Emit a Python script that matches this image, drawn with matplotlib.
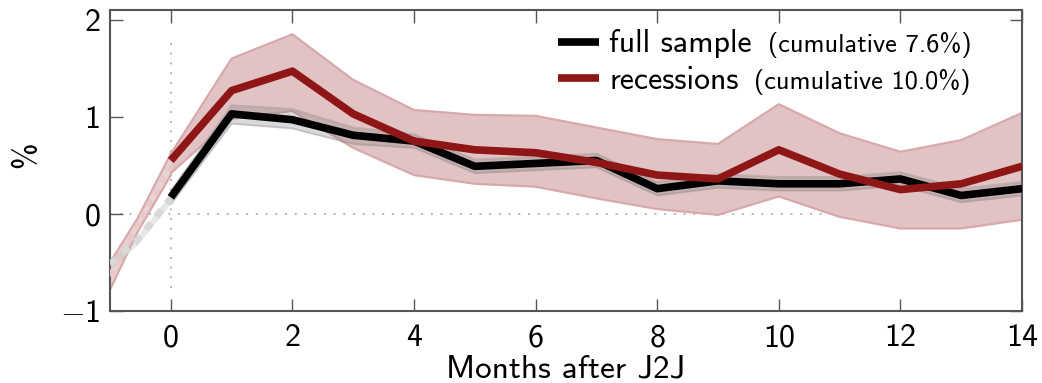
import numpy as np
import matplotlib
matplotlib.use("Agg")
import matplotlib.pyplot as plt
from matplotlib.lines import Line2D

# Months after the job-to-job move
months = [0, 1, 2, 3, 4, 5, 6, 7, 8, 9, 10, 11, 12, 13, 14]

# Full sample response and confidence band
full = [0.17, 1.03, 0.97, 0.81, 0.75, 0.49, 0.52, 0.55, 0.26, 0.34, 0.31, 0.31, 0.36, 0.19, 0.26]
full_lo = [0.10, 0.93, 0.88, 0.72, 0.68, 0.42, 0.45, 0.48, 0.19, 0.27, 0.24, 0.24, 0.29, 0.12, 0.19]
full_hi = [0.24, 1.12, 1.08, 0.89, 0.82, 0.56, 0.59, 0.62, 0.33, 0.41, 0.38, 0.38, 0.43, 0.26, 0.33]

# Recession response and confidence band
rec = [0.55, 1.27, 1.47, 1.03, 0.75, 0.66, 0.63, 0.53, 0.40, 0.36, 0.66, 0.41, 0.25, 0.31, 0.49]
rec_lo = [0.42, 0.98, 1.06, 0.68, 0.40, 0.31, 0.28, 0.16, 0.05, -0.01, 0.18, -0.03, -0.15, -0.15, -0.06]
rec_hi = [0.62, 1.60, 1.85, 1.38, 1.07, 1.02, 1.01, 0.89, 0.77, 0.72, 1.13, 0.83, 0.64, 0.76, 1.04]

# Pre-move segment
pre_x = [-1.0, -0.55, 0.0]
pre_full = [-0.52, -0.27, 0.16]
pre_full_lo = [-0.57, -0.32, 0.11]
pre_full_hi = [-0.47, -0.22, 0.21]
pre_rec = [-0.64, -0.12, 0.51]
pre_rec_lo = [-0.78, -0.19, 0.40]
pre_rec_hi = [-0.50, -0.05, 0.62]

labels = ["full sample", "recessions"]
notes = ["(cumulative 7.6%)", "(cumulative 10.0%)"]

xticks = [0, 2, 4, 6, 8, 10, 12, 14]
yticks = [-1, 0, 1, 2]
xlim = (-1, 14)
ylim = (-1, 2.1)
vline_span = (-0.76, 1.81)

RED = "#8E1616"
BAND_RED = "#E2C3C4"
BAND_RED_EDGE = "#D7A9AB"
FRAME = "#555555"

plt.rcParams["font.family"] = ["cmss10", "DejaVu Sans"]
plt.rcParams["mathtext.fontset"] = "cm"
plt.rcParams["axes.formatter.use_mathtext"] = False

W, H = 1042, 383
fig = plt.figure(figsize=(W / 100, H / 100), dpi=100)
ax = fig.add_axes([110 / W, 1 - 311 / H, (1022 - 110) / W, (311 - 10) / H])

# reference lines
ax.axhline(0, color="#B5B5B5", lw=1.4, ls=(0, (1, 4)), zorder=1)
ax.vlines(0, *vline_span, color="#B5B5B5", lw=1.4, ls=(0, (1, 4)), zorder=1)

# recession band
ax.fill_between(pre_x, pre_rec_lo, pre_rec_hi, color=BAND_RED, alpha=0.75, lw=0, zorder=2)
ax.fill_between(months, rec_lo, rec_hi, color=BAND_RED, lw=0, zorder=2)
for xs, ys in [(months, rec_lo), (months, rec_hi), (pre_x, pre_rec_lo), (pre_x, pre_rec_hi)]:
    ax.plot(xs, ys, color=BAND_RED_EDGE, lw=1.6, zorder=2.1)

# full sample band
ax.fill_between(pre_x, pre_full_lo, pre_full_hi, color="#BDBDBD", alpha=0.35, lw=0, zorder=3)
ax.fill_between(months, full_lo, full_hi, color="#7A7A7A", alpha=0.28, lw=0, zorder=3)
for ys in (full_lo, full_hi):
    ax.plot(months, ys, color="#8A8A8A", alpha=0.35, lw=1.5, zorder=3.1)

# pre-move dashed lines
ax.plot(pre_x, pre_rec, color="#E8C8C8", lw=4, ls=(0, (1.2, 1.2)), zorder=3.5)
ax.plot(pre_x, pre_full, color="#D8D8D8", lw=5, ls=(0, (1.2, 1.2)), zorder=3.6)

# responses
ax.plot(months, full, color="black", lw=5.5, solid_capstyle="butt", zorder=4)
ax.plot(months, rec, color=RED, lw=5.5, solid_capstyle="butt", zorder=5)

ax.set_xlim(*xlim)
ax.set_ylim(*ylim)
ax.set_xticks(xticks)
ax.set_yticks(yticks)
ax.set_yticklabels(["$-$" + str(-t) if t < 0 else str(t) for t in yticks])
ax.tick_params(direction="in", length=9, width=1, color=FRAME, labelsize=23,
               top=True, right=True)
ax.tick_params(axis="x", pad=9)
ax.tick_params(axis="y", pad=7)
for s in ax.spines.values():
    s.set_color(FRAME)
    s.set_linewidth(1.5)

ax.set_xlabel("Months after J2J", fontsize=24, va="baseline")
ax.xaxis.set_label_coords(0.5, (311 - 377) / 301)
ax.set_ylabel("%", fontsize=23)
ax.yaxis.set_label_coords((40 - 110) / 912, 0.52)

# legend: thick line keys, label text, smaller parenthetical notes
key_x = ((558 - 110) / 912, (599 - 110) / 912)
text_x = (609 - 110) / 912
key_y = [(311 - 42) / 301, (311 - 78) / 301]
base_y = [(311 - 52) / 301, (311 - 89) / 301]
fig.canvas.draw()
renderer = fig.canvas.get_renderer()
inv = ax.transAxes.inverted()
for color, label, note, ky, by in zip(["black", RED], labels, notes, key_y, base_y):
    ax.add_line(Line2D(key_x, [ky, ky], color=color, lw=5.5, solid_capstyle="butt",
                       transform=ax.transAxes, clip_on=False, zorder=6))
    t = ax.text(text_x, by, label, fontsize=23, va="baseline", ha="left",
                transform=ax.transAxes, zorder=6)
    bb = t.get_window_extent(renderer)
    nx = inv.transform((bb.x1 + 16, 0))[0]
    ax.text(nx, by, note, fontsize=19, va="baseline", ha="left",
            transform=ax.transAxes, zorder=6)

fig.savefig("out.png", dpi=100)
